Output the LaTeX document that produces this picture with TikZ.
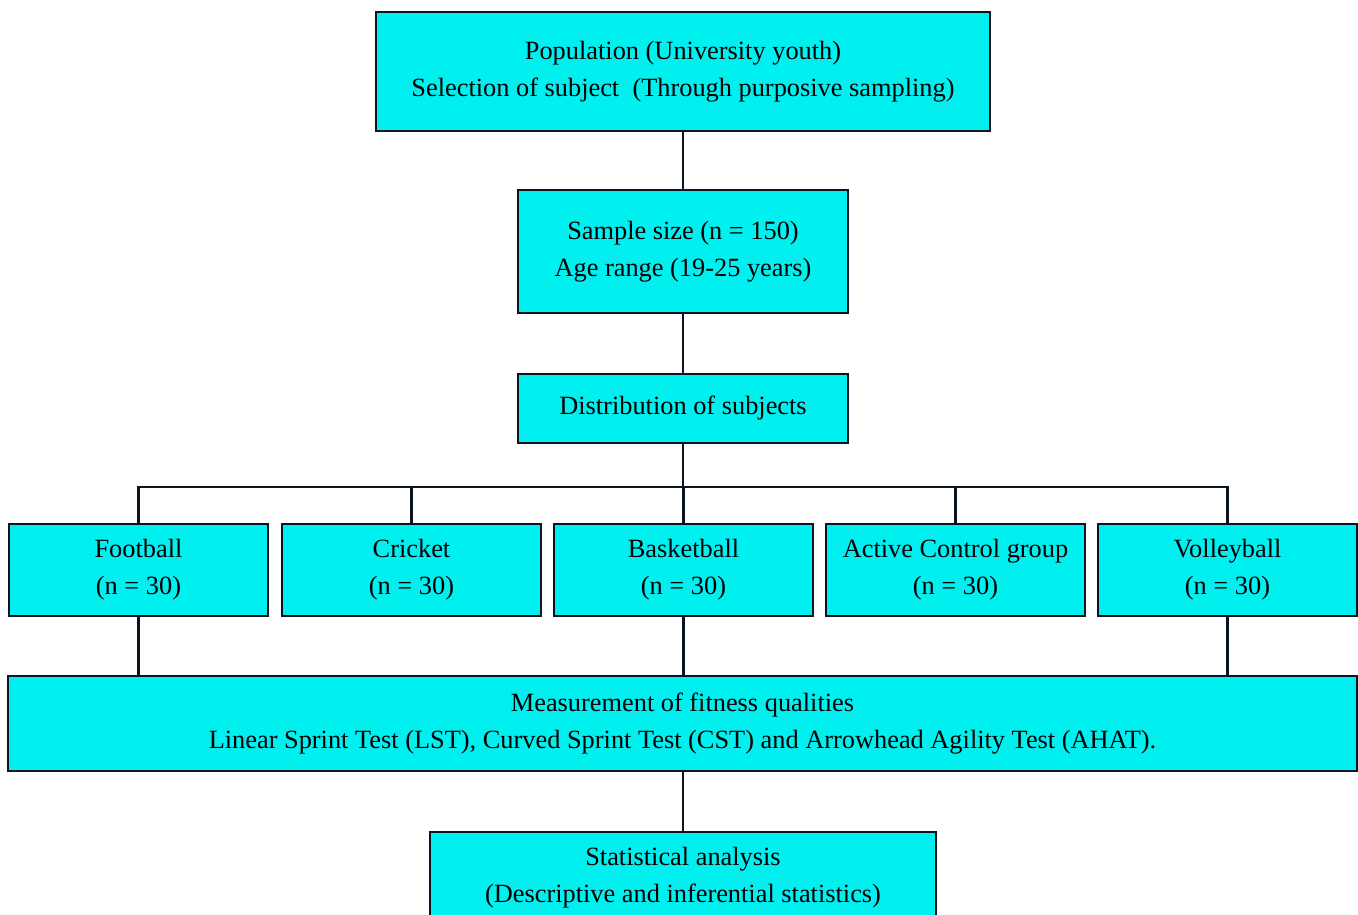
\documentclass[tikz,border=0pt]{standalone}
\usepackage{fontspec}
\setmainfont{Liberation Serif}
\definecolor{boxcyan}{RGB}{0,240,240}
\definecolor{edge}{RGB}{12,20,34}
\tikzset{
  box/.style={draw=edge, line width=1.4pt, fill=boxcyan, align=center, inner sep=0pt,
    font=\fontsize{15}{21}\selectfont},
  sport/.style={box, minimum width=5.18cm, minimum height=1.84cm},
  link/.style={draw=edge, line width=1.4pt}
}
\begin{document}
\begin{tikzpicture}[x=0.02cm, y=-0.02cm]
  \useasboundingbox (0,0) rectangle (1358,915);
  \clip (0,0) rectangle (1358,915);
  % upper chain
  \node[box, minimum width=12.28cm, minimum height=2.38cm] (pop) at (683,71.5)
    {Population (University youth)\\Selection of subject\ \ (Through purposive sampling)};
  \node[box, minimum width=6.6cm, minimum height=2.46cm] (sample) at (683,251.5)
    {Sample size (n = 150)\\Age range (19-25 years)};
  \node[box, minimum width=6.6cm, minimum height=1.38cm] (dist) at (683,408.5)
    {Distribution of subjects};
  % groups
  \node[sport] (foot) at (138.5,570) {Football\\(n = 30)};
  \node[sport] (crick) at (411.5,570) {Cricket\\(n = 30)};
  \node[sport] (basket) at (683.5,570) {Basketball\\(n = 30)};
  \node[sport] (active) at (955.5,570) {Active Control group\\(n = 30)};
  \node[sport] (volley) at (1227.5,570) {Volleyball\\(n = 30)};
  % lower chain
  \node[box, minimum width=26.98cm, minimum height=1.9cm] (meas) at (682.5,723.5)
    {Measurement of fitness qualities\\Linear Sprint Test (LST), Curved Sprint Test (CST) and Arrowhead Agility Test (AHAT).};
  \node[box, minimum width=10.12cm, minimum height=1.84cm] (stat) at (683,878)
    {Statistical analysis\\(Descriptive and inferential statistics)};
  \coordinate (split) at (683,487);

  \draw[link] (pop) -- (sample);
  \draw[link] (sample) -- (dist);
  \draw[link] (dist) -- (split);
  \foreach \s in {foot,crick,basket,active,volley}
    \draw[link] (split) -| (\s.north);
  \foreach \s in {foot,basket,volley}
    \draw[link] (\s.south) -- (\s.south |- meas.north);
  \draw[link] (stat.north |- meas.south) -- (stat.north);
\end{tikzpicture}
\end{document}
